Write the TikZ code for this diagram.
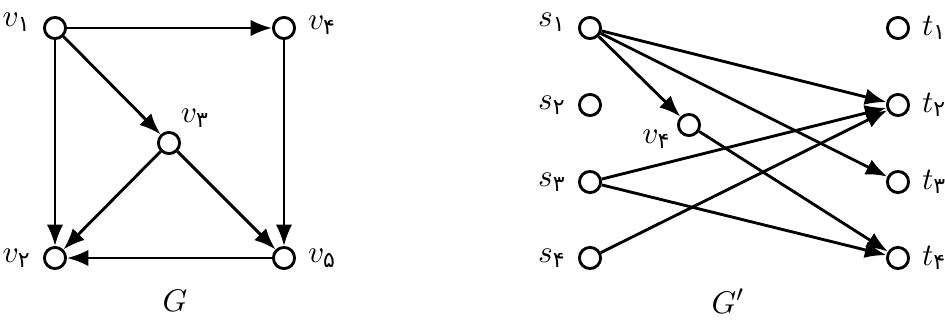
\documentclass[tikz,border=0pt]{standalone}
\usepackage{amsmath}
\usepackage{fontspec}
\newfontfamily\fadigits[Script=Arabic]{DejaVu Sans}
\usetikzlibrary{arrows.meta}
% Persian-digit subscript
\newcommand{\fs}[1]{\text{\fadigits #1}}
\begin{document}
\begin{tikzpicture}[x=0.35pt,y=-0.35pt,
  every node/.style={font=\fontsize{11}{13}\selectfont},
  vtx/.style={circle,draw,line width=1pt,fill=white,minimum size=7.4pt,inner sep=0pt},
  edge/.style={line width=1pt,-{Latex[length=7.5pt,width=5.8pt]}},
  lbl/.style={inner sep=1pt}]
\useasboundingbox (0,0) rectangle (945,320);

% ---- graph G
\node[vtx,label={[lbl,label distance=3pt,yshift=2pt]left:$v_{\fs{۱}}$}] (v1) at (55,28) {};
\node[vtx,label={[lbl,label distance=3pt,yshift=1pt]right:$v_{\fs{۴}}$}] (v4) at (284,28) {};
\node[vtx,label={[lbl,label distance=1pt]55:$v_{\fs{۳}}$}] (v3) at (169,143) {};
\node[vtx,label={[lbl,label distance=3pt]left:$v_{\fs{۲}}$}] (v2) at (55,258) {};
\node[vtx,label={[lbl,label distance=3pt]right:$v_{\fs{۵}}$}] (v5) at (284,258) {};
\node (G) at (175,301) {$G$};

\draw[edge] (v1) -- (v4);
\draw[edge] (v1) -- (v3);
\draw[edge] (v1) -- (v2);
\draw[edge] (v4) -- (v5);
\draw[edge] (v3) -- (v2);
\draw[edge] (v3) -- (v5);
\draw[edge] (v5) -- (v2);

% ---- graph G'
\node[vtx,label={[lbl,label distance=3pt,yshift=2pt]left:$s_{\fs{۱}}$}] (s1) at (590,28) {};
\node[vtx,label={[lbl,label distance=3pt]left:$s_{\fs{۲}}$}] (s2) at (590,105) {};
\node[vtx,label={[lbl,label distance=3pt]left:$s_{\fs{۳}}$}] (s3) at (590,182) {};
\node[vtx,label={[lbl,label distance=3pt]left:$s_{\fs{۴}}$}] (s4) at (590,258) {};
\node[vtx,label={[lbl,label distance=1pt]188:$v_{\fs{۴}}$}] (w4) at (689,125) {};
\node[vtx,label={[lbl,label distance=3pt]right:$t_{\fs{۱}}$}] (t1) at (898,28) {};
\node[vtx,label={[lbl,label distance=3pt]right:$t_{\fs{۲}}$}] (t2) at (898,105) {};
\node[vtx,label={[lbl,label distance=3pt]right:$t_{\fs{۳}}$}] (t3) at (898,182) {};
\node[vtx,label={[lbl,label distance=3pt]right:$t_{\fs{۴}}$}] (t4) at (898,258) {};
\node (Gp) at (728,301) {$G'$};

\draw[edge] (s1) -- (t2);
\draw[edge] (s1) -- (t3);
\draw[edge] (s1) -- (w4);
\draw[edge] (w4) -- (t4);
\draw[edge] (s3) -- (t2);
\draw[edge] (s3) -- (t4);
\draw[edge] (s4) -- (t2);
\end{tikzpicture}
\end{document}
